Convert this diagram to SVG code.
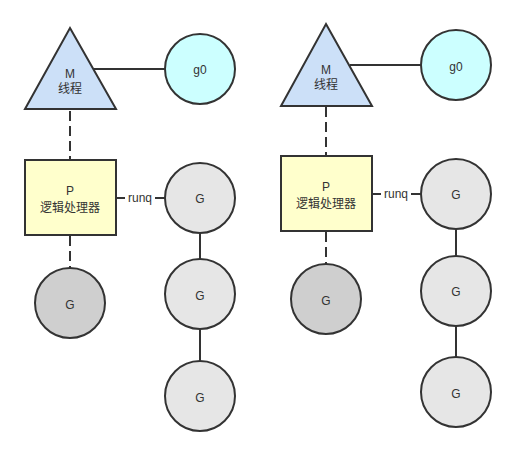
<svg xmlns="http://www.w3.org/2000/svg" width="516" height="456" viewBox="0 0 516 456">
<style>
.s{stroke:#333;stroke-width:2}
.tri{fill:#cce0f8}
.g0{fill:#ccffff}
.p{fill:#ffffcc}
.g{fill:#e6e6e6}
.gd{fill:#cfcfcf}
.dash{stroke-dasharray:10 5;fill:none}
text{font-family:"Liberation Sans","Noto Sans CJK SC",sans-serif;font-size:12px;fill:#333;text-anchor:middle;dominant-baseline:central}
</style>
<rect width="516" height="456" fill="#fff"/>
<g id="connectors" fill="none">
<line class="s" x1="94" y1="69" x2="165" y2="69"/>
<line class="s dash" x1="70" y1="111" x2="70" y2="160"/>
<line class="s dash" x1="70" y1="236" x2="70" y2="268"/>
<line class="s" x1="116" y1="198" x2="125" y2="198"/>
<line class="s" x1="155" y1="198" x2="165" y2="198"/>
<line class="s" x1="200" y1="233" x2="200" y2="259"/>
<line class="s" x1="200" y1="329" x2="200" y2="361"/>
<line class="s" x1="350" y1="65" x2="421" y2="65"/>
<line class="s dash" x1="326" y1="107" x2="326" y2="156"/>
<line class="s dash" x1="326" y1="232" x2="326" y2="264"/>
<line class="s" x1="372" y1="194" x2="381" y2="194"/>
<line class="s" x1="411" y1="194" x2="421" y2="194"/>
<line class="s" x1="456" y1="229" x2="456" y2="256"/>
<line class="s" x1="456" y1="326" x2="456" y2="357"/>
<text x="140" y="198">runq</text>
<text x="396" y="194">runq</text>
</g>
<g id="m1"><polygon class="s tri" points="70,28 116,109 25,109"/><text x="70" y="74">M</text><text x="70" y="89">线程</text></g>
<g id="g0a"><circle class="s g0" cx="200" cy="69" r="35"/><text x="200" y="70">g0</text></g>
<g id="p1"><rect class="s p" x="25" y="160" width="91" height="75"/><text x="70" y="191">P</text><text x="70" y="208">逻辑处理器</text></g>
<g id="gd1"><circle class="s gd" cx="70" cy="303" r="35"/><text x="70" y="305">G</text></g>
<g id="ga1"><circle class="s g" cx="200" cy="198" r="35"/><text x="200" y="199">G</text></g>
<g id="ga2"><circle class="s g" cx="200" cy="294" r="35"/><text x="200" y="296">G</text></g>
<g id="ga3"><circle class="s g" cx="200" cy="396" r="35"/><text x="200" y="398">G</text></g>
<g id="m2"><polygon class="s tri" points="326,24 372,106 281,106"/><text x="326" y="70">M</text><text x="326" y="85">线程</text></g>
<g id="g0b"><circle class="s g0" cx="456" cy="65" r="35"/><text x="456" y="67">g0</text></g>
<g id="p2"><rect class="s p" x="281" y="156" width="91" height="75"/><text x="326" y="187">P</text><text x="326" y="204">逻辑处理器</text></g>
<g id="gd2"><circle class="s gd" cx="326" cy="299" r="35"/><text x="326" y="301">G</text></g>
<g id="gb1"><circle class="s g" cx="456" cy="194" r="35"/><text x="456" y="195">G</text></g>
<g id="gb2"><circle class="s g" cx="456" cy="291" r="35"/><text x="456" y="292">G</text></g>
<g id="gb3"><circle class="s g" cx="456" cy="392" r="35"/><text x="456" y="394">G</text></g>
</svg>
